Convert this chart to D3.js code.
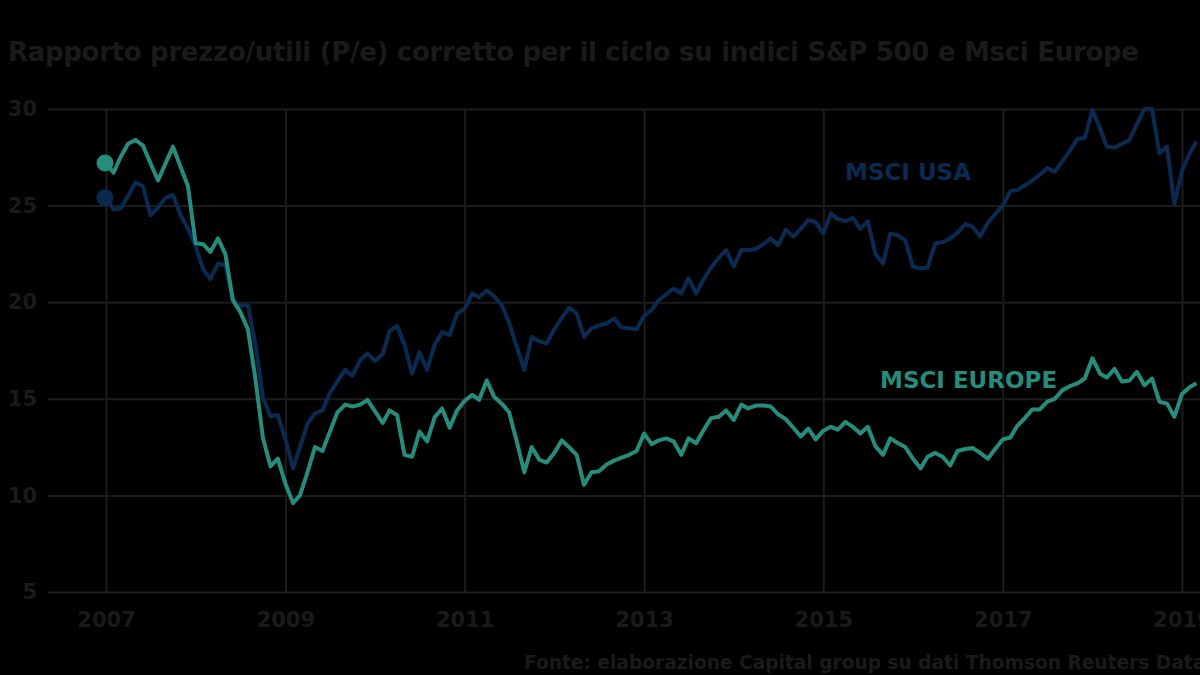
<!DOCTYPE html>
<html>
<head>
	<meta charset="utf-8">
	<script src="https://cdn.jsdelivr.net/npm/d3@7"></script>
	<style>
		html, body { margin: 0; padding: 0; background: #000; overflow: hidden; }
		text { font-family: "DejaVu Sans", "Liberation Sans", sans-serif; font-weight: bold; }
	</style>
</head>
<body>
	<script>
		// monthly values, Jan 2007 -> Mar 2019
		var firstMonth = new Date(2007, 0, 1);

		var msciUsa = [
			25.4, 24.8, 24.85, 25.5, 26.2, 26.0, 24.5, 24.9, 25.4, 25.55, 24.5, 23.8,
			22.9, 21.7, 21.2, 22.0, 21.9, 20.1, 19.8, 19.85, 17.8, 15.1, 14.1, 14.16,
			12.9, 11.4, 12.5, 13.7, 14.25, 14.4, 15.3, 15.9, 16.5, 16.2, 17.0, 17.35,
			16.95, 17.3, 18.5, 18.77, 17.8, 16.3, 17.4, 16.5, 17.8, 18.45, 18.3, 19.4,
			19.65, 20.45, 20.25, 20.6, 20.3, 19.85, 18.95, 17.7, 16.5, 18.2, 17.97, 17.87,
			18.6, 19.2, 19.7, 19.45, 18.2, 18.65, 18.8, 18.9, 19.15, 18.7, 18.65, 18.6,
			19.3, 19.6, 20.1, 20.4, 20.7, 20.45, 21.24, 20.45, 21.2, 21.8, 22.3, 22.7,
			21.85, 22.7, 22.7, 22.75, 23.0, 23.3, 22.95, 23.75, 23.4, 23.8, 24.25, 24.15,
			23.55, 24.6, 24.3, 24.2, 24.35, 23.8, 24.2, 22.5, 22.0, 23.55, 23.45, 23.2,
			21.84, 21.75, 21.8, 23.05, 23.1, 23.3, 23.6, 24.05, 23.9, 23.4, 24.1, 24.55,
			25.0, 25.75, 25.8, 26.05, 26.3, 26.6, 26.95, 26.75, 27.3, 27.85, 28.45, 28.5,
			29.95, 29.0, 28.05, 28.0, 28.2, 28.4, 29.2, 30.0, 30.0, 27.7, 28.05, 25.1,
			26.8, 27.7, 28.3
		];

		var msciEurope = [
			27.2, 26.7, 27.5, 28.2, 28.4, 28.1, 27.2, 26.3, 27.2, 28.05, 27.0, 26.0,
			23.05, 23.0, 22.6, 23.3, 22.5, 20.1, 19.5, 18.6, 16.0, 13.0, 11.5, 11.9,
			10.6, 9.6, 10.0, 11.2, 12.5, 12.3, 13.3, 14.3, 14.7, 14.6, 14.7, 14.94,
			14.35, 13.75, 14.4, 14.15, 12.1, 12.0, 13.3, 12.8, 14.05, 14.5, 13.5, 14.4,
			14.9, 15.2, 14.95, 15.95, 15.1, 14.75, 14.3, 12.8, 11.2, 12.5, 11.85, 11.7,
			12.2, 12.85, 12.5, 12.1, 10.55, 11.2, 11.25, 11.6, 11.8, 11.95, 12.1, 12.3,
			13.2, 12.65, 12.85, 12.95, 12.8, 12.1, 12.95, 12.7, 13.4, 14.0, 14.07, 14.4,
			13.9, 14.7, 14.5, 14.65, 14.65, 14.6, 14.2, 13.95, 13.5, 13.05, 13.45, 12.9,
			13.35, 13.55, 13.4, 13.8, 13.55, 13.2, 13.55, 12.55, 12.1, 12.95, 12.7, 12.5,
			11.9, 11.4, 12.0, 12.2, 12.0, 11.55, 12.3, 12.4, 12.45, 12.2, 11.9, 12.4,
			12.9, 13.0, 13.6, 14.0, 14.45, 14.45, 14.85, 15.0, 15.45, 15.65, 15.8, 16.05,
			17.1, 16.3, 16.1, 16.55, 15.9, 15.95, 16.4, 15.7, 16.05, 14.85, 14.75, 14.07,
			15.25, 15.6, 15.8
		];

		var yTicks = [5, 10, 15, 20, 25, 30];
		var xTickYears = [2007, 2009, 2011, 2013, 2015, 2017, 2019];

		var width = 1200, height = 675;
		var textColor = "#1a1a1a";
		var gridColor = "#1c1c1c";
		var usaColor = "#0b2a52";
		var euColor = "#268c7c";

		var svg = d3.select("body").append("svg")
			.attr("width", width)
			.attr("height", height)
			.style("background-color", "black");

		var x = d3.scaleTime()
			.domain([new Date(2007, 0, 1), new Date(2019, 0, 1)])
			.range([106, 1182]);

		var y = d3.scaleLinear()
			.domain([5, 30])
			.range([592, 109]);

		function monthDate(i) {
			return d3.timeMonth.offset(firstMonth, i);
		}

		//title
		svg.append("text")
			.attr("x", 8)
			.attr("y", 61)
			.attr("fill", textColor)
			.style("font-size", "26px")
			.style("letter-spacing", "-0.3px")
			.text("Rapporto prezzo/utili (P/e) corretto per il ciclo su indici S&P 500 e Msci Europe");

		//horizontal grid + y labels
		var yAxis = d3.axisLeft(y)
			.tickValues(yTicks)
			.tickSize(-(width - 48))
			.tickPadding(11)
			.tickFormat(d3.format("d"));

		var gy = svg.append("g")
			.attr("transform", "translate(48,0)")
			.call(yAxis);
		gy.select(".domain").remove();
		gy.selectAll("line").attr("stroke", gridColor).attr("stroke-width", 2);
		gy.selectAll("text")
			.attr("fill", textColor)
			.style("font-size", "21px")
			.style("font-family", "DejaVu Sans, sans-serif");

		//vertical grid + x labels
		var xAxis = d3.axisBottom(x)
			.tickValues(xTickYears.map(function(yr) { return new Date(yr, 0, 1); }))
			.tickSize(-(592 - 109))
			.tickPadding(20)
			.tickFormat(d3.timeFormat("%Y"));

		var gx = svg.append("g")
			.attr("transform", "translate(0,592)")
			.call(xAxis);
		gx.select(".domain").remove();
		gx.selectAll("line").attr("stroke", gridColor).attr("stroke-width", 2);
		gx.selectAll("text")
			.attr("fill", textColor)
			.style("font-size", "21px")
			.style("font-family", "DejaVu Sans, sans-serif");

		var line = d3.line()
			.x(function(d, i) { return x(monthDate(i)); })
			.y(function(d) { return y(d); });

		svg.append("path")
			.datum(msciUsa)
			.attr("fill", "none")
			.attr("stroke", usaColor)
			.attr("stroke-width", 4)
			.attr("stroke-linejoin", "round")
			.attr("d", line);

		svg.append("path")
			.datum(msciEurope)
			.attr("fill", "none")
			.attr("stroke", euColor)
			.attr("stroke-width", 4)
			.attr("stroke-linejoin", "round")
			.attr("d", line);

		//start dots
		svg.append("circle")
			.attr("cx", x(monthDate(0)) - 1)
			.attr("cy", y(msciEurope[0]))
			.attr("r", 8.5)
			.attr("fill", euColor);

		svg.append("circle")
			.attr("cx", x(monthDate(0)) - 1)
			.attr("cy", y(msciUsa[0]))
			.attr("r", 8.5)
			.attr("fill", usaColor);

		//series labels
		svg.append("text")
			.attr("x", 845)
			.attr("y", 180)
			.attr("fill", usaColor)
			.style("font-size", "23px")
			.text("MSCI USA");

		svg.append("text")
			.attr("x", 880)
			.attr("y", 388)
			.attr("fill", euColor)
			.style("font-size", "23px")
			.text("MSCI EUROPE");

		//source (runs past the right edge, as in the original)
		svg.append("text")
			.attr("x", 524)
			.attr("y", 669)
			.attr("fill", textColor)
			.style("font-size", "18.6px")
			.text("Fonte: elaborazione Capital group su dati Thomson Reuters Datastream");
	</script>
</body>
</html>
